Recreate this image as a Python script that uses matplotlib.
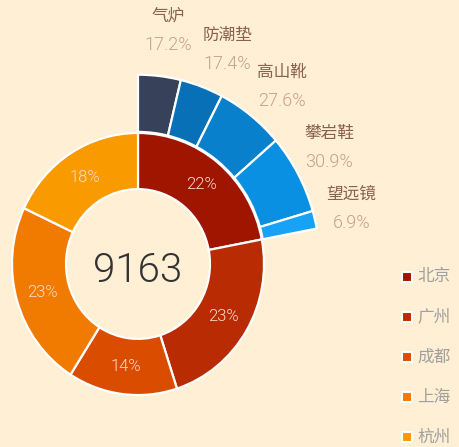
import numpy as np
import matplotlib
matplotlib.use("Agg")
import matplotlib.pyplot as plt

cities = ['北京', '广州', '成都', '上海', '杭州']
city_pct = [22, 23, 14, 23, 18]
city_colors = ['#A01500', '#B92B03', '#DA4D00', '#F17B00', '#F99A00']
total_label = '9163'
items = ['气炉', '防潮垫', '高山靴', '攀岩鞋', '望远镜']
item_pct = [17.2, 17.4, 27.6, 30.9, 6.9]
item_colors = ['#37425A', '#0870B6', '#0880CC', '#0A90E2', '#18A2F5']

plt.rcParams['font.family'] = ['Noto Sans CJK SC', 'DejaVu Sans']
DIGIT_FONT = ['Roboto', 'DejaVu Sans']
DIGIT_W = 300
BG = '#FEEFD5'

W, H = 460, 447
SY = 1.04  # vertical stretch of the reference

fig = plt.figure(figsize=(W / 100, H / 100), dpi=100, facecolor=BG)
ax = fig.add_axes([0, 0, 1, 1])
ax.set_facecolor(BG)
ax.axis('off')


def P(xp, yp):
    """pixel (top-left origin) -> data coords"""
    return xp, (H - yp) / SY


cx, cy = P(138, 264)
R_in, R_hole = 126, 72

wedges, texts, autotexts = ax.pie(
    city_pct, center=(cx, cy), radius=R_in, startangle=90, counterclock=False,
    colors=city_colors, autopct=lambda p: f'{p:.0f}%', pctdistance=0.786,
    wedgeprops=dict(width=R_in - R_hole, edgecolor='white', linewidth=1.6),
    textprops=dict(color='#F8DCCF', fontsize=12, fontweight=DIGIT_W,
                   family=DIGIT_FONT))

frac0 = city_pct[0] / 100
vals = [v / 100 * frac0 for v in item_pct]
ax.pie(vals, center=(cx, cy), radius=182, startangle=90, counterclock=False,
       normalize=False, colors=item_colors,
       wedgeprops=dict(width=55, edgecolor='white', linewidth=1.6))

ax.set_xlim(0, W)
ax.set_ylim(0, H / SY)
ax.set_aspect('auto')

# small angular nudges the reference applies to avoid label overlap (degrees)
nudge = [-0.8, -3.0, -1.9, 1.7, 0.3]
cum = np.cumsum([0] + vals)
for i, (name, p) in enumerate(zip(items, item_pct)):
    mid = (cum[i] + cum[i + 1]) / 2
    ang = np.deg2rad(90 - 360 * mid + nudge[i])
    r = 226 - 1.5 * i
    x = cx + r * np.cos(ang)
    y = cy + r * np.sin(ang)
    ax.text(x, y + 14, name, ha='center', va='center', fontsize=12,
            color='#8A6050', fontweight='light')
    ax.text(x, y - 13.5, f'{p}%', ha='center', va='center', fontsize=13,
            color='#C8A08C', fontweight=DIGIT_W, family=DIGIT_FONT)

bx, by = P(138, 282)
ax.text(bx, by, total_label, ha='center', va='baseline', fontsize=29,
        color='#333333', fontweight=DIGIT_W, family=DIGIT_FONT)

for i, (c, col) in enumerate(zip(cities, city_colors)):
    lx, ly = P(407, 277 + 40 * i)
    ax.scatter([lx], [ly], marker='s', s=55, color=col, edgecolors='white',
               linewidths=1.5, zorder=3)
    ax.text(lx + 10, ly, c, ha='left', va='center', fontsize=12, color='#A0A0A0')

fig.savefig('out.png', dpi=100, facecolor=BG)
